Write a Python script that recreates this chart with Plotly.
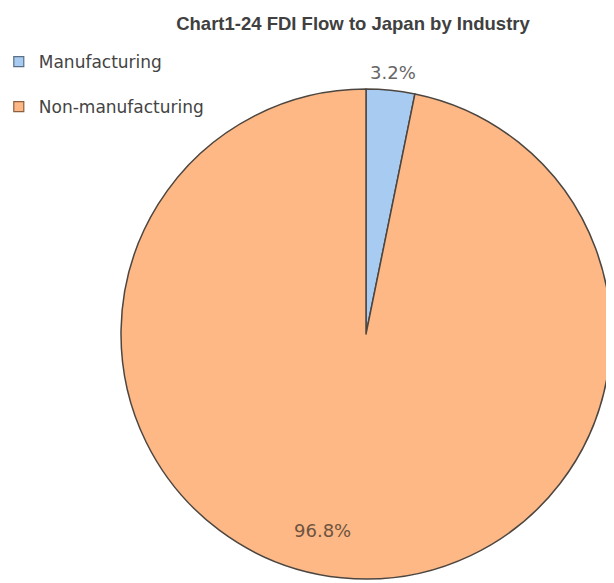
import plotly.graph_objects as go

categories = ["Manufacturing", "Non-manufacturing"]
shares = [3.2, 96.8]
colors = ["#A8CCF1", "#FDB886"]
label_colors = ["#666666", "#6e5440"]

W, H = 614, 583
# pie bounds in pixels (layout only)
pie_left, pie_right, pie_top, pie_bottom = 113, 603, 80, 572
# label anchor positions in pixels (layout only)
label_xy = [(385, 64), (314, 522)]

fig = go.Figure()
fig.add_trace(go.Pie(
    labels=categories,
    values=shares,
    sort=False,
    direction="clockwise",
    rotation=0,
    marker=dict(colors=colors, line=dict(color="#4d4640", width=1.5)),
    textinfo="none",
    hoverinfo="label+percent",
    showlegend=False,
    domain=dict(x=[pie_left / W, pie_right / W], y=[1 - pie_bottom / H, 1 - pie_top / H]),
))

# legend entries (one group per category to reproduce the spacing)
for name, col in zip(categories, colors):
    fig.add_trace(go.Scatter(
        x=[None], y=[None], mode="markers", name=name, legendgroup=name,
        marker=dict(symbol="square", size=10, color=col, line=dict(color="#5a6f86" if col == colors[0] else "#8a6040", width=1.2)),
        hoverinfo="skip",
    ))

for v, (px, py), c in zip(shares, label_xy, label_colors):
    fig.add_annotation(
        text=f"{v:.1f}%", x=px / W, y=1 - py / H, xref="paper", yref="paper",
        xanchor="center", yanchor="middle", showarrow=False,
        font=dict(family="DejaVu Sans", size=18, color=c),
    )

fig.update_layout(
    width=W, height=H,
    margin=dict(l=0, r=0, t=0, b=0, autoexpand=False),
    paper_bgcolor="white",
    plot_bgcolor="white",
    xaxis=dict(visible=False),
    yaxis=dict(visible=False),
    title=dict(text="<b>Chart1-24 FDI Flow to Japan by Industry</b>",
               x=345 / W, xanchor="center", y=1 - 16 / H, yanchor="middle",
               font=dict(family="Liberation Sans", size=18.5, color="#404040")),
    legend=dict(x=-0.015, y=1 - 36 / H, xanchor="left", yanchor="top",
                bgcolor="rgba(0,0,0,0)",
                font=dict(family="DejaVu Sans", size=17, color="#444444"),
                traceorder="grouped", tracegroupgap=20),
    showlegend=True,
)

fig.write_html("out.html")
